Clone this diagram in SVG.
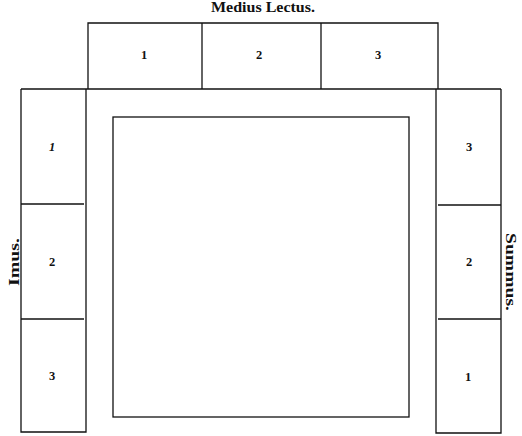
<svg xmlns="http://www.w3.org/2000/svg" width="522" height="436" viewBox="0 0 522 436">
<style>
.ln{fill:none;stroke:#111;stroke-width:1.3}
.num{font-family:"Liberation Serif",serif;font-weight:bold;font-size:12.5px;fill:#111;text-anchor:middle}
.lbl{font-family:"Liberation Serif",serif;font-weight:bold;font-size:14px;fill:#111;text-anchor:middle}
</style>
<rect width="522" height="436" fill="#fff"/>
<g id="medius">
<text class="lbl" x="263" y="12" textLength="104" lengthAdjust="spacingAndGlyphs">Medius Lectus.</text>
<path class="ln" d="M88,89 V23 H438 V89"/>
<line class="ln" x1="202" y1="23" x2="202" y2="89" stroke-width="0.8"/>
<line class="ln" x1="321" y1="23" x2="321" y2="89" stroke-width="0.8"/>
<text class="num" x="144" y="59">1</text>
<text class="num" x="259" y="59">2</text>
<text class="num" x="378" y="59">3</text>
</g>
<g id="front">
<line class="ln" x1="21" y1="89" x2="501" y2="89"/>
</g>
<g id="imus">
<text class="lbl" transform="translate(19,262) rotate(-90)" textLength="48" lengthAdjust="spacingAndGlyphs">Imus.</text>
<path class="ln" d="M21,89 V432 H86 V89"/>
<line class="ln" x1="21" y1="204" x2="84" y2="204" stroke-width="0.9"/>
<line class="ln" x1="21" y1="319" x2="84" y2="319" stroke-width="0.9"/>
<text class="num" x="52" y="151" font-style="italic">1</text>
<text class="num" x="52" y="266">2</text>
<text class="num" x="52" y="380">3</text>
</g>
<g id="summus">
<text class="lbl" transform="translate(506,272) rotate(90)" textLength="78" lengthAdjust="spacingAndGlyphs">Summus.</text>
<path class="ln" d="M436,89 V433 H501 V89"/>
<line class="ln" x1="438" y1="205" x2="501" y2="205" stroke-width="0.9"/>
<line class="ln" x1="438" y1="319" x2="501" y2="319" stroke-width="0.9"/>
<text class="num" x="469" y="151">3</text>
<text class="num" x="469" y="266">2</text>
<text class="num" x="468" y="381">1</text>
</g>
<g id="mensa">
<rect class="ln" x="113" y="117" width="296" height="300"/>
</g>
</svg>
